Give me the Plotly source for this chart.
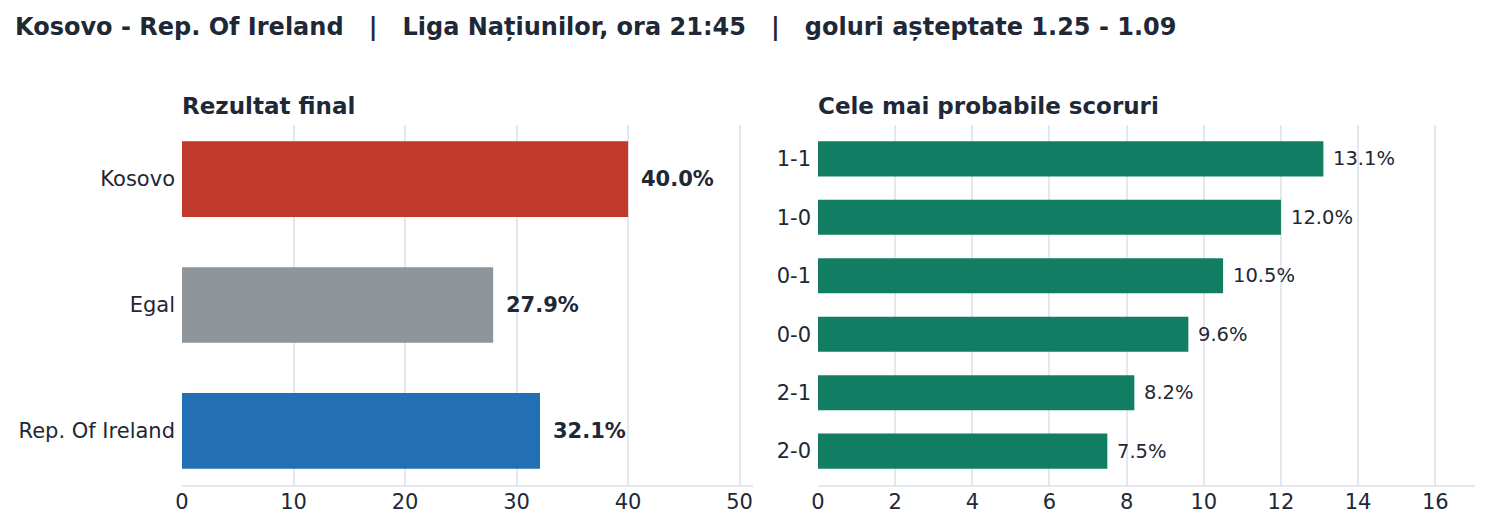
import plotly.graph_objects as go
from plotly.subplots import make_subplots

INK = "#1e2836"
GRID = "#e4e7eb"
FONT = "DejaVu Sans"

# pagina are o margine de 8px in jurul graficului
W, H, OFF = 1481, 519, 8

TITLE = "Kosovo - Rep. Of Ireland   |   Liga Națiunilor, ora 21:45   |   goluri așteptate 1.25 - 1.09"

# rezultat final (1X2)
outcomes = ["Kosovo", "Egal", "Rep. Of Ireland"]
outcome_pct = [40.0, 27.9, 32.1]
outcome_colors = ["#c0392b", "#8e959b", "#2270b3"]

# cele mai probabile scoruri
scores = ["1-1", "1-0", "0-1", "0-0", "2-1", "2-0"]
score_pct = [13.1, 12.0, 10.5, 9.6, 8.2, 7.5]
SCORE_COLOR = "#117e63"


def px(x):
    return (x - OFF) / W


def py(y):
    return 1 - (y - OFF) / H


fig = make_subplots(rows=1, cols=2)

fig.add_trace(go.Bar(
    y=outcomes, x=outcome_pct, orientation="h", width=0.6,
    marker_color=outcome_colors, marker_line_width=0,
    hovertemplate="%{y}: %{x:.1f}%<extra></extra>",
), row=1, col=1)

fig.add_trace(go.Bar(
    y=scores, x=score_pct, orientation="h", width=0.6,
    marker_color=SCORE_COLOR, marker_line_width=0,
    hovertemplate="%{y}: %{x:.1f}%<extra></extra>",
), row=1, col=2)

# etichete procentuale la capatul barelor
for cat, v in zip(outcomes, outcome_pct):
    fig.add_annotation(x=v, y=cat, xref="x", yref="y", text=f"<b>{v:.1f}%</b>",
                       showarrow=False, xanchor="left", xshift=11,
                       font=dict(size=21, color=INK, family=FONT))
for cat, v in zip(scores, score_pct):
    fig.add_annotation(x=v, y=cat, xref="x2", yref="y2", text=f"{v:.1f}%",
                       showarrow=False, xanchor="left", xshift=8,
                       font=dict(size=19.5, color=INK, family=FONT))

fig.add_annotation(x=px(15), y=py(27), xref="paper", yref="paper",
                   text=f"<b>{TITLE}</b>", showarrow=False,
                   xanchor="left", yanchor="middle", xshift=-2,
                   font=dict(size=24, color=INK, family=FONT))
fig.add_annotation(x=px(182), y=py(106), xref="paper", yref="paper",
                   text="<b>Rezultat final</b>", showarrow=False,
                   xanchor="left", yanchor="middle", xshift=-2,
                   font=dict(size=23, color=INK, family=FONT))
fig.add_annotation(x=px(818), y=py(106), xref="paper", yref="paper",
                   text="<b>Cele mai probabile scoruri</b>", showarrow=False,
                   xanchor="left", yanchor="middle", xshift=-2,
                   font=dict(size=23, color=INK, family=FONT))

ydom = [py(485), py(125)]
fig.update_layout(
    template="none", width=W, height=H,
    paper_bgcolor="white", plot_bgcolor="white",
    font=dict(family=FONT, color=INK, size=21),
    margin=dict(l=0, r=0, t=0, b=0),
    showlegend=False,
    xaxis=dict(domain=[px(182), px(753)], range=[0, 51.2], dtick=10),
    xaxis2=dict(domain=[px(818), px(1475)], range=[0, 17.03], dtick=2),
    yaxis=dict(domain=ydom, range=[2.43, -0.43]),
    yaxis2=dict(domain=ydom, range=[5.58, -0.58]),
)
fig.update_xaxes(showgrid=True, gridcolor=GRID, gridwidth=1.6, zeroline=False,
                 showline=True, linecolor=GRID, linewidth=2, ticks="",
                 tickfont=dict(size=21, color=INK), ticklabelstandoff=-3)
fig.update_yaxes(showgrid=False, zeroline=False, showline=False, ticks="",
                 tickfont=dict(size=21, color=INK), ticklabelstandoff=6)

fig.write_html("out.html")
